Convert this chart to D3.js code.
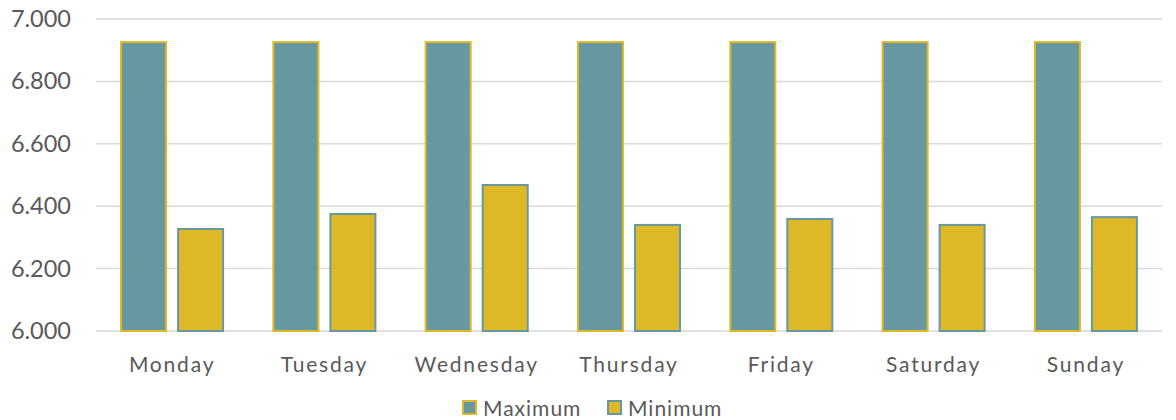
<!DOCTYPE html>
<html>
<head>
<meta charset="utf-8">
<script src="https://cdn.jsdelivr.net/npm/d3@7.9.0/dist/d3.min.js"></script>
<style>
  body { margin: 0; background: #fff; }
  text { font-family: "Lato", "Open Sans", sans-serif; fill: #595959; }
</style>
</head>
<body>
<svg id="chart" width="1176" height="420"></svg>
<script>
// ---- data ----
const days = ["Monday", "Tuesday", "Wednesday", "Thursday", "Friday", "Saturday", "Sunday"];
const seriesNames = ["Maximum", "Minimum"];
const maximum = [6.926, 6.926, 6.926, 6.926, 6.926, 6.926, 6.926];
const minimum = [6.327, 6.375, 6.468, 6.340, 6.359, 6.340, 6.365];
const yTicks = [6.0, 6.2, 6.4, 6.6, 6.8, 7.0];

const fills = { Maximum: "#6798a2", Minimum: "#ddb927" };
const strokes = { Maximum: "#ddb927", Minimum: "#6798a2" };

const rows = days.map((d, i) => ({ day: d, Maximum: maximum[i], Minimum: minimum[i] }));

// ---- layout ----
const svg = d3.select("#chart");
const margin = { top: 19, right: 14, bottom: 89, left: 96 };
const W = 1176, H = 420;
const innerW = W - margin.left - margin.right;
const innerH = H - margin.top - margin.bottom;
const g = svg.append("g").attr("transform", `translate(${margin.left},${margin.top})`);

const x0 = d3.scaleBand().domain(days).range([0, innerW])
  .paddingInner(0.317).paddingOuter(0.158);
const x1 = d3.scaleBand().domain(seriesNames).range([0, x0.bandwidth()])
  .paddingInner(0.175);
const y = d3.scaleLinear().domain([6, 7]).range([innerH, 0]);

// gridlines
g.append("g")
  .selectAll("line")
  .data(yTicks)
  .join("line")
  .attr("x1", 0).attr("x2", innerW)
  .attr("y1", d => y(d)).attr("y2", d => y(d))
  .attr("stroke", "#d9d9d9")
  .attr("stroke-width", 1.5);

// y labels
const yAxis = g.append("g")
  .call(d3.axisLeft(y).tickValues(yTicks).tickFormat(d3.format(".3f")).tickSize(0).tickPadding(25));
yAxis.select(".domain").remove();
yAxis.selectAll("text").style("font-size", "23.5px").attr("fill", "#595959");

// bars
g.append("g")
  .selectAll("g")
  .data(rows)
  .join("g")
  .attr("transform", d => `translate(${x0(d.day)},0)`)
  .selectAll("rect")
  .data(d => seriesNames.map(k => ({ key: k, value: d[k] })))
  .join("rect")
  .attr("x", d => x1(d.key) + 1)
  .attr("width", x1.bandwidth() - 2)
  .attr("y", d => y(d.value))
  .attr("height", d => y(6) - y(d.value))
  .attr("fill", d => fills[d.key])
  .attr("stroke", d => strokes[d.key])
  .attr("stroke-width", 2);

// x labels
const xAxis = g.append("g")
  .attr("transform", `translate(0,${innerH})`)
  .call(d3.axisBottom(x0).tickSize(0).tickPadding(26));
xAxis.select(".domain").remove();
xAxis.selectAll("text").style("font-size", "21px").attr("fill", "#595959").style("letter-spacing", "1.8px");

// legend
const legend = svg.append("g").attr("transform", "translate(463,407)");
const legendX = [0, 145];
seriesNames.forEach((k, i) => {
  const lg = legend.append("g").attr("transform", `translate(${legendX[i]},0)`);
  lg.append("rect")
    .attr("x", 0).attr("y", -6).attr("width", 13).attr("height", 13)
    .attr("fill", fills[k]).attr("stroke", strokes[k]).attr("stroke-width", 2);
  lg.append("text")
    .attr("x", 20).attr("y", 9)
    .style("font-size", "21px")
    .style("letter-spacing", "1px")
    .text(k);
});
</script>
</body>
</html>
